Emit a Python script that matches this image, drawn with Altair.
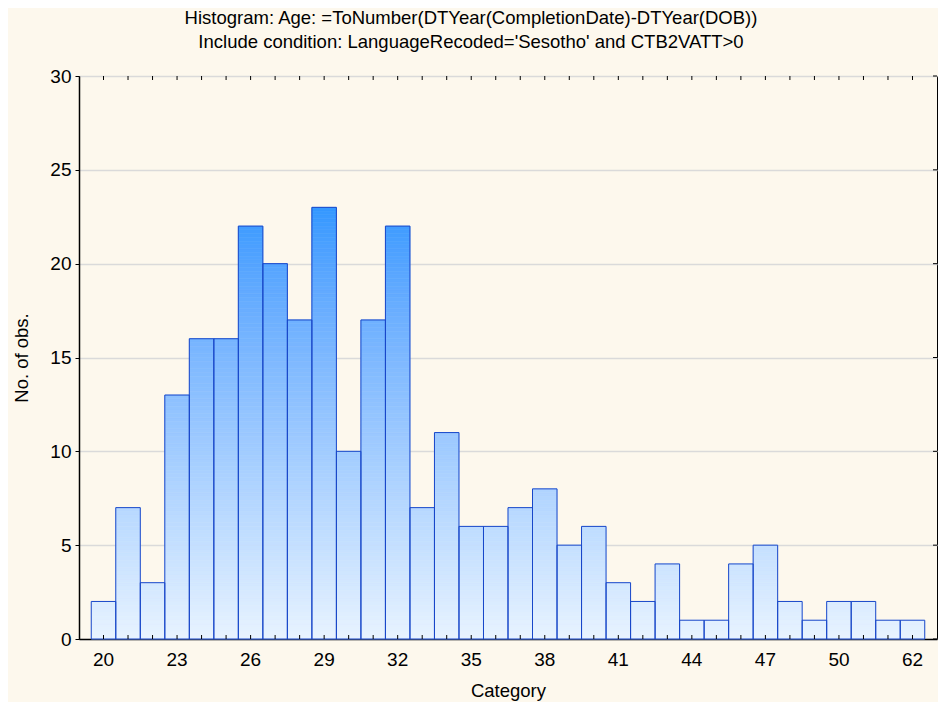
import altair as alt
import pandas as pd

categories = ["20", "21", "22", "23", "24", "25", "26", "27", "28", "29", "30",
              "31", "32", "33", "34", "35", "36", "37", "38", "39", "40", "41",
              "42", "43", "44", "45", "46", "47", "48", "49", "50", "51", "52", "62"]
counts = [2, 7, 3, 13, 16, 16, 22, 20, 17, 23, 10, 17, 22, 7, 11, 6, 6, 7, 8, 5,
          6, 3, 2, 4, 1, 1, 4, 5, 2, 1, 2, 2, 1, 1]
shown_labels = ["20", "23", "26", "29", "32", "35", "38", "41", "44", "47", "50", "62"]
y_ticks = [0, 5, 10, 15, 20, 25, 30]

title_lines = ["Histogram: Age: =ToNumber(DTYear(CompletionDate)-DTYear(DOB))",
               "Include condition: LanguageRecoded='Sesotho' and CTB2VATT>0"]

W, H = 858, 563
FONT = "Liberation Sans"

bars = pd.DataFrame({"cat": categories, "n": counts})

# thin slices of each bar, coloured by height, to imitate the vertical gradient
step = 0.2
rows = []
for c, v in zip(categories, counts):
    k = 0
    while k * step < v - 1e-9:
        lo = k * step
        hi = min((k + 1) * step, v)
        rows.append({"cat": c, "lo": lo, "hi": hi, "mid": (lo + hi) / 2})
        k += 1
slices = pd.DataFrame(rows)

xscale = alt.Scale(domain=categories, paddingInner=0, paddingOuter=0.5)
yscale = alt.Scale(domain=[0, 30], nice=False)
cscale = alt.Scale(domain=[0, 23], range=["#E8F3FF", "#3398FF"])

xaxis = alt.Axis(values=shown_labels, labelAngle=0, ticks=False, grid=False,
                 labelFontSize=19, labelPadding=11, title="Category",
                 titleFontSize=18.5, titleFontWeight="normal", titlePadding=12,
                 domainColor="black", domainWidth=1.5)
yaxis = alt.Axis(values=y_ticks, grid=True, gridColor="#DADADA", gridWidth=1.5,
                 tickSize=4, tickColor="black", labelFontSize=19, labelPadding=4,
                 title="No. of obs.", titleFontSize=18.5, titleFontWeight="normal",
                 titlePadding=18, domainColor="black", domainWidth=1.5)

grad = alt.Chart(slices).mark_bar(strokeWidth=0.6).encode(
    x=alt.X("cat:N", scale=xscale, axis=xaxis, sort=categories),
    y=alt.Y("lo:Q", scale=yscale, axis=yaxis),
    y2="hi:Q",
    color=alt.Color("mid:Q", scale=cscale, legend=None),
    stroke=alt.Stroke("mid:Q", scale=cscale, legend=None),
)

outline = alt.Chart(bars).mark_bar(fillOpacity=0, stroke="#1847C9", strokeWidth=1).encode(
    x=alt.X("cat:N", scale=xscale, sort=categories),
    y=alt.Y("n:Q", scale=yscale),
)

tick_bottom = alt.Chart(bars).mark_rule(color="black", strokeWidth=1).encode(
    x=alt.X("cat:N", scale=xscale, sort=categories, bandPosition=0.5),
    y=alt.value(H - 4),
    y2=alt.value(H),
)
tick_top = alt.Chart(bars).mark_rule(color="black", strokeWidth=1).encode(
    x=alt.X("cat:N", scale=xscale, sort=categories, bandPosition=0.5),
    y=alt.value(0),
    y2=alt.value(4),
)
ydf = pd.DataFrame({"v": y_ticks})
tick_right = alt.Chart(ydf).mark_rule(color="black", strokeWidth=1).encode(
    y=alt.Y("v:Q", scale=yscale),
    x=alt.value(W - 4),
    x2=alt.value(W),
)

chart = alt.layer(grad, outline, tick_bottom, tick_top, tick_right).properties(
    width=W,
    height=H,
    autosize=alt.AutoSizeParams(type="none"),
    padding={"left": 71, "top": 68, "right": 1, "bottom": 63},
    title=alt.TitleParams(text=title_lines, fontSize=18.5, font=FONT, fontWeight="normal",
                          color="black", anchor="middle", frame="group", dx=-37,
                          lineHeight=24, offset=16),
    background="#FDF8ED",
).configure_view(
    stroke="black", strokeWidth=1
).configure_axis(
    labelFont=FONT, titleFont=FONT, labelColor="black", titleColor="black"
)

chart.save("out.html", embed_options={"renderer": "svg", "actions": False})
